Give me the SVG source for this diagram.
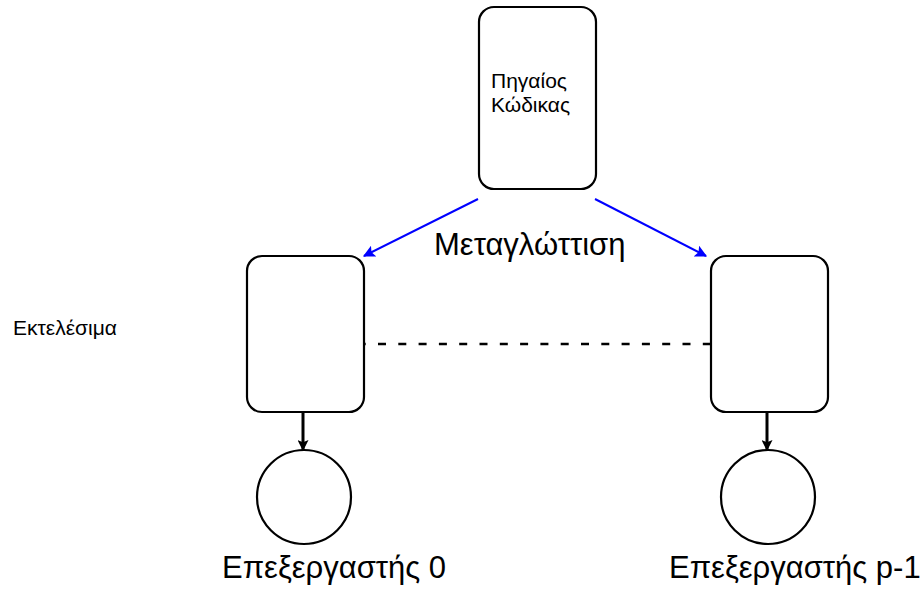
<svg xmlns="http://www.w3.org/2000/svg" width="922" height="589" viewBox="0 0 922 589">
<style>
  .box{fill:#fff;stroke:#000;stroke-width:2.2}
  .t{font-family:"Liberation Sans",Arial,sans-serif;fill:#000}
  .blue{stroke:#0000ff;stroke-width:2;fill:none}
  .down{stroke:#000;stroke-width:3;fill:none}
</style>
<defs>
  <marker id="ab" viewBox="0 0 10 10" refX="9" refY="5" markerWidth="16" markerHeight="12" markerUnits="userSpaceOnUse" orient="auto">
    <path d="M0,0 L10,5 L0,10 L2,5 Z" fill="#0000ff"/>
  </marker>
  <marker id="ak" viewBox="0 0 10 10" refX="9" refY="5" markerWidth="15" markerHeight="11" markerUnits="userSpaceOnUse" orient="auto">
    <path d="M0,0 L10,5 L0,10 L2,5 Z" fill="#000"/>
  </marker>
</defs>
<rect width="922" height="589" fill="#fff"/>
<g id="connectors">
  <line class="blue" x1="478" y1="199" x2="364" y2="256" marker-end="url(#ab)"/>
  <line class="blue" x1="595" y1="199" x2="706" y2="256" marker-end="url(#ab)"/>
  <line x1="357.7" y1="344" x2="712" y2="344" stroke="#000" stroke-width="2.5" stroke-dasharray="8 12.3"/>
  <line class="down" x1="303" y1="412" x2="303" y2="450" marker-end="url(#ak)"/>
  <line class="down" x1="767" y1="412" x2="767" y2="450" marker-end="url(#ak)"/>
</g>
<g id="source">
  <rect class="box" x="479" y="7" width="117" height="182" rx="15"/>
  <text class="t" x="491" y="88" font-size="21">Πηγαίος</text>
  <text class="t" x="491" y="112" font-size="21">Κώδικας</text>
</g>
<g id="exec0">
  <rect class="box" x="247" y="256" width="117" height="156" rx="15"/>
</g>
<g id="exec1">
  <rect class="box" x="711" y="256" width="117" height="156" rx="15"/>
</g>
<g id="proc0">
  <circle class="box" cx="304" cy="497" r="47"/>
  <text class="t" x="222" y="578" font-size="31">Επεξεργαστής 0</text>
</g>
<g id="proc1">
  <circle class="box" cx="768" cy="497" r="47"/>
  <text class="t" x="669" y="578" font-size="31">Επεξεργαστής p-1</text>
</g>
<g id="labels">
  <text class="t" x="434" y="255" font-size="31">Μεταγλώττιση</text>
  <text class="t" x="13" y="335" font-size="21">Εκτελέσιμα</text>
</g>
</svg>
